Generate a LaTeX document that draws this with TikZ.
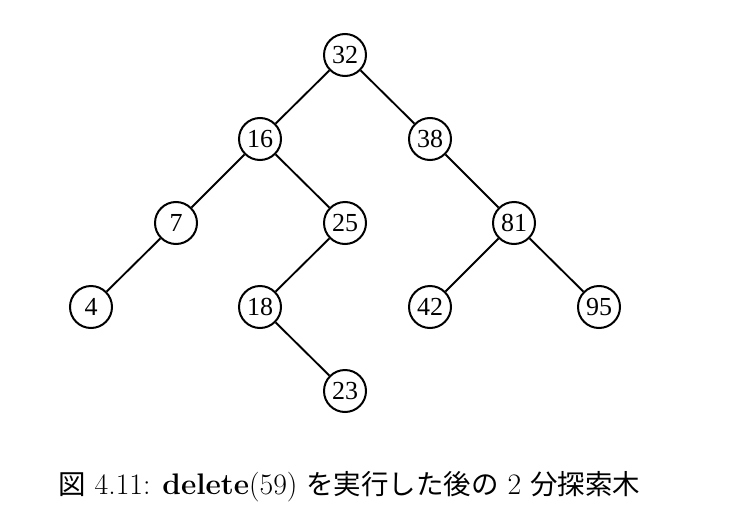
\documentclass[tikz,border=0pt]{standalone}
\usepackage{fontspec}
\newfontfamily\nodefont{Liberation Serif}
\newfontfamily\cjk{Noto Sans CJK JP}
\begin{document}
\begin{tikzpicture}[x=0.75pt,y=-0.75pt,
  vtx/.style={circle,draw,line width=1.5pt,minimum size=31.5pt,inner sep=0pt,font=\nodefont\fontsize{19.5}{19.5}\selectfont},
  edge/.style={line width=1.4pt}]
\useasboundingbox (0,0) rectangle (734,517);
\node[vtx] (n32) at (345,55) {32};
\node[vtx] (n16) at (260,139) {16};
\node[vtx] (n38) at (430,139) {38};
\node[vtx] (n7) at (176,223) {7};
\node[vtx] (n25) at (345,223) {25};
\node[vtx] (n81) at (514,223) {81};
\node[vtx] (n4) at (91,307) {4};
\node[vtx] (n18) at (260,307) {18};
\node[vtx] (n42) at (430,307) {42};
\node[vtx] (n95) at (599,307) {95};
\node[vtx] (n23) at (345,391) {23};
\draw[edge] (n32)--(n16) (n32)--(n38) (n16)--(n7) (n16)--(n25) (n7)--(n4)
  (n25)--(n18) (n18)--(n23) (n38)--(n81) (n81)--(n42) (n81)--(n95);
\node[anchor=west,font=\fontsize{22.3}{22.3}\selectfont,inner sep=0pt] (cap) at (58,487)
  {{\cjk\fontsize{20.6}{20.6}\selectfont 図} 4.11: \textbf{delete}(59) {\cjk\fontsize{20.6}{20.6}\selectfont を実行した後の} 2 {\cjk\fontsize{20.6}{20.6}\selectfont 分探索木}};
\end{tikzpicture}
\end{document}
